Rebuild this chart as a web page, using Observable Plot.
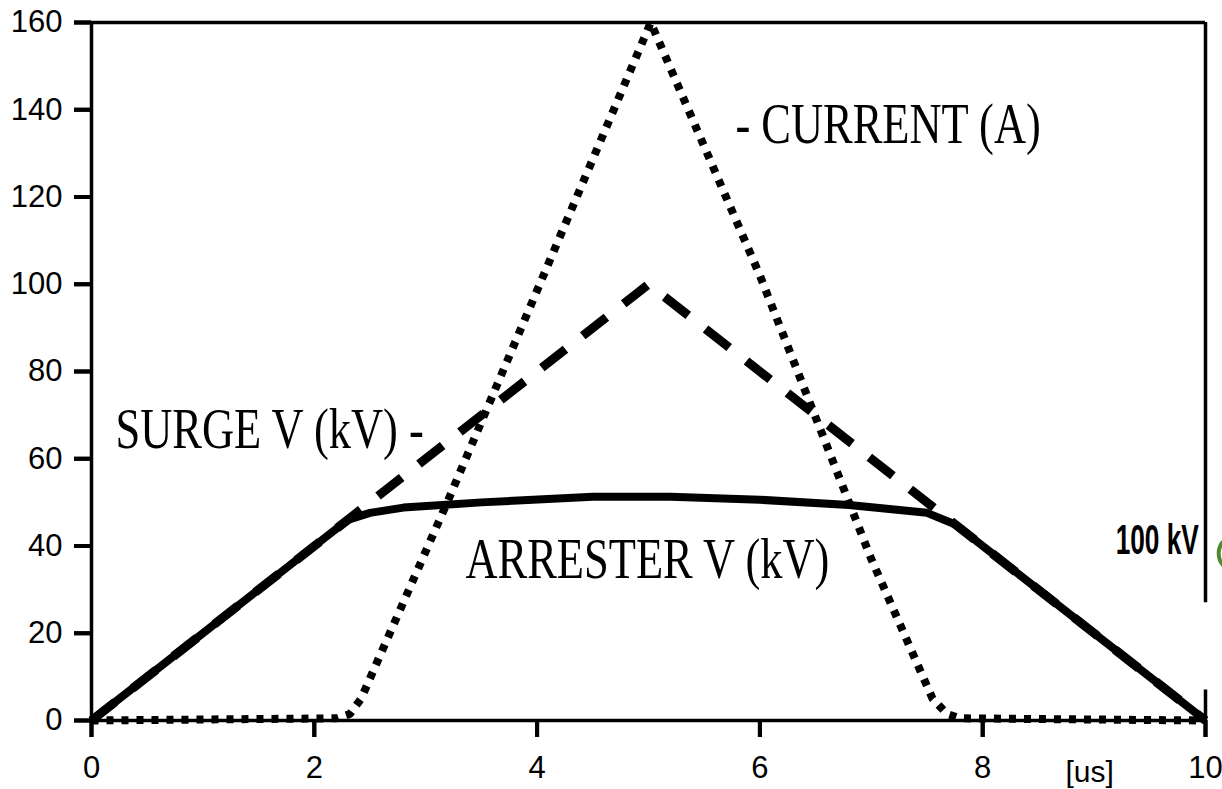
<!DOCTYPE html>
<html>
<head>
<meta charset="utf-8">
<script src="https://cdn.jsdelivr.net/npm/d3@7"></script>
<script src="https://cdn.jsdelivr.net/npm/@observablehq/plot@0.6"></script>
<style>
  html, body { margin: 0; padding: 0; background: #fff; overflow: hidden; }
</style>
</head>
<body>
<div id="chart"></div>
<script>
// Axis ticks
const xTicks = [0, 2, 4, 6, 8, 10];
const yTicks = [0, 20, 40, 60, 80, 100, 120, 140, 160];

// Surge voltage (kV) – triangular impulse
const surgeT = [0, 5, 10];
const surgeKV = [0, 100, 0];

// Arrester voltage (kV) – clamped near 50 kV
const arresterT = [0, 2.3, 2.5, 2.8, 3.5, 4.5, 5.2, 6.0, 6.8, 7.5, 7.75, 10];
const arresterKV = [0, 46, 47.6, 48.8, 50.0, 51.3, 51.3, 50.6, 49.4, 47.6, 45, 0];

// Arrester current (A)
const currentT = [0, 2.2, 2.32, 2.42, 3.2, 5.02, 6.0, 7.0, 7.55, 7.68, 7.8, 10];
const currentA = [0, 0.5, 1.5, 5, 50.4, 160, 102, 37, 5, 1.5, 0.5, 0];

// Curve labels
const curveLabels = ["- CURRENT (A)", "SURGE V (kV) -", "ARRESTER V (kV)"];
const curveLabelT = [5.78, 0.215, 3.357];
const curveLabelV = [136.6, 66.7, 36.9];

// Side note and axis unit
const noteText = ["100 kV"];
const noteT = [9.94];
const noteV = [41.35];
const unitText = ["[us]"];
const unitT = [8.96];
const unitV = [-11.8];
const badgeT = [10.28];
const badgeV = [38.3];

const toRows = (xs, ys) => xs.map((x, i) => ({x, y: ys[i]}));
const surge = toRows(surgeT, surgeKV);
const arrester = toRows(arresterT, arresterKV);
const current = toRows(currentT, currentA);
const curveRows = curveLabels.map((text, i) => ({text, x: curveLabelT[i], y: curveLabelV[i]}));

// Layout
const W = 1222, H = 789;
const mL = 91, mR = 17, mT = 22, mB = 69;
const xDomain = [0, 10], yDomain = [0, 160];
const tickLen = 17; // outward tick length in pixels
const xPerPx = (xDomain[1] - xDomain[0]) / (W - mL - mR);
const yPerPx = (yDomain[1] - yDomain[0]) / (H - mT - mB);
const ink = "#000";
const sansFont = "Liberation Sans, Arial, sans-serif";
const serifFont = "Liberation Serif, Times New Roman, serif";

const chart = Plot.plot({
  width: W,
  height: H,
  marginLeft: mL,
  marginRight: mR,
  marginTop: mT,
  marginBottom: mB,
  x: {domain: xDomain},
  y: {domain: yDomain},
  style: {fontFamily: sansFont, color: ink, background: "#fff", overflow: "visible"},
  marks: [
    // frame
    Plot.ruleY([0], {stroke: ink, strokeWidth: 3.5}),
    Plot.ruleY([160], {stroke: ink, strokeWidth: 3.5}),
    Plot.ruleX([0], {stroke: ink, strokeWidth: 3.5}),
    Plot.ruleX([10], {y1: 27, y2: 160, stroke: ink, strokeWidth: 3.5}),
    Plot.ruleX([10], {y1: 0, y2: 7, stroke: ink, strokeWidth: 3.5}),
    // outward tick marks
    Plot.ruleX(xTicks, {x: d => d, y1: 0, y2: -tickLen * yPerPx, stroke: ink, strokeWidth: 4}),
    Plot.ruleY(yTicks, {y: d => d, x1: 0, x2: -tickLen * xPerPx, stroke: ink, strokeWidth: 4}),
    Plot.axisX(xTicks, {tickSize: tickLen, tickPadding: 18, fontSize: 31, stroke: ink, strokeWidth: 4, fill: ink, tickFormat: d => String(d), label: null}),
    Plot.axisY(yTicks, {tickSize: tickLen, tickPadding: 12, fontSize: 31, stroke: ink, strokeWidth: 4, fill: ink, tickFormat: d => String(d), label: null}),
    // series
    Plot.line(current, {x: "x", y: "y", stroke: ink, strokeWidth: 8, strokeDasharray: "7,8", strokeLinecap: "butt", strokeLinejoin: "miter"}),
    Plot.line(arrester, {x: "x", y: "y", stroke: ink, strokeWidth: 8, strokeLinecap: "butt", strokeLinejoin: "round"}),
    Plot.line(surge, {x: "x", y: "y", stroke: ink, strokeWidth: 9, strokeDasharray: "30,22", strokeLinecap: "butt", strokeLinejoin: "miter"}),
    // annotations
    Plot.text(curveRows, {x: "x", y: "y", text: "text", textAnchor: "start", lineAnchor: "middle",
      fontFamily: serifFont, fontSize: 57, fill: ink, className: "serif-label"}),
    Plot.text(noteText, {x: noteT, y: noteV, text: d => d, textAnchor: "end", lineAnchor: "middle",
      fontFamily: sansFont, fontWeight: "bold", fontSize: 42, fill: ink, className: "note-label"}),
    Plot.text(unitText, {x: unitT, y: unitV, text: d => d, textAnchor: "middle", lineAnchor: "middle",
      fontSize: 30, fill: ink}),
    Plot.dot(badgeT, {x: d => d, y: (d, i) => badgeV[i], r: 18, stroke: "#4f8a2e", strokeWidth: 4, fill: "none"})
  ]
});

document.getElementById("chart").appendChild(chart);

// Set the label fonts on each text element and narrow the glyphs about their anchor
function condense(selector, family, weight, factor) {
  chart.querySelectorAll(selector + " text").forEach(el => {
    el.setAttribute("font-family", family);
    el.style.fontFamily = family;
    if (weight) { el.setAttribute("font-weight", weight); el.style.fontWeight = weight; }
    const t = el.getAttribute("transform") || "";
    el.setAttribute("transform", `${t} scale(${factor},1)`);
  });
}
condense(".serif-label", serifFont, null, 0.78);
condense(".note-label", sansFont, "bold", 0.625);
</script>
</body>
</html>
